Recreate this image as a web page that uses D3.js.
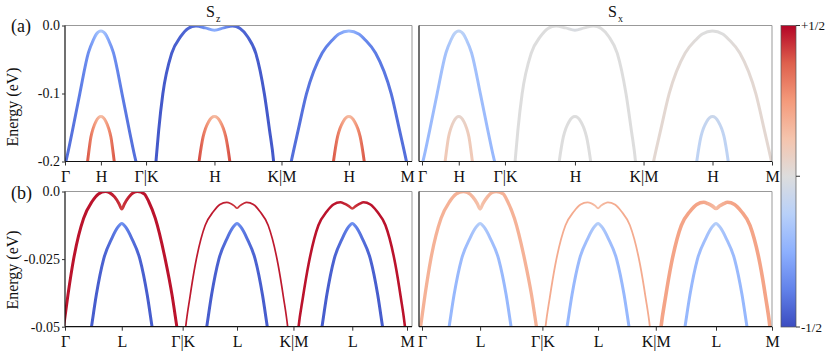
<!DOCTYPE html>
<html>
<head>
<meta charset="utf-8">
<script src="https://cdn.jsdelivr.net/npm/d3@7"></script>
<style>
  body { margin: 0; background: #fff; }
</style>
</head>
<body>
<svg id="chart" width="830" height="355"></svg>
<script>
// high symmetry points along the path (normalised path length)
const kTop = [0, 0.105, 0.237, 0.437, 0.633, 0.830, 1];
const labelsTop = ["Γ", "H", "Γ|K", "H", "K|M", "H", "M"];
const kBot = [0, 0.166, 0.344, 0.503, 0.668, 0.840, 1];
const labelsBot = ["Γ", "L", "Γ|K", "L", "K|M", "L", "M"];

const yTicksTop = [0, -0.1, -0.2];
const yLabelsTop = ["0.0", "-0.1", "-0.2"];
const yTicksBot = [0, -0.025, -0.05];
const yLabelsBot = ["0.0", "-0.025", "-0.05"];

// coolwarm colour map
const spinStops = [-0.5, -0.375, -0.25, -0.125, 0, 0.125, 0.25, 0.375, 0.5];
const coolwarmColors = ["#3b4cc0", "#6282ea", "#8db0fe", "#b8d0f9", "#dddddd", "#f5c4ad", "#f49a7b", "#de604d", "#b40426"];

// bands: [k, E (eV), Sz, Sx]
// (a) bands around H
const bandA1 = [[-0.003,-0.21,-0.42,-0.22],[0.003,-0.199,-0.42,-0.22],[0.022,-0.154,-0.41,-0.21],[0.043,-0.101,-0.39,-0.2],
  [0.0685,-0.040,-0.34,-0.18],[0.083,-0.021,-0.28,-0.15],[0.092,-0.0125,-0.22,-0.12],[0.105,-0.008,-0.16,-0.1],
  [0.118,-0.0125,-0.22,-0.12],[0.127,-0.021,-0.28,-0.15],[0.1415,-0.040,-0.34,-0.18],[0.167,-0.101,-0.39,-0.2],
  [0.188,-0.154,-0.41,-0.21],[0.207,-0.199,-0.42,-0.22],[0.213,-0.21,-0.42,-0.22]];
const bandB1 = [[0.062,-0.215,0.38,0.1],[0.066,-0.2,0.38,0.1],[0.076,-0.1635,0.32,0.09],[0.0822,-0.1516,0.28,0.08],
  [0.0904,-0.1414,0.22,0.06],[0.105,-0.134,0.14,0.04],[0.1196,-0.1414,0.22,0.06],[0.1278,-0.1516,0.28,0.08],
  [0.134,-0.1635,0.32,0.09],[0.144,-0.2,0.38,0.1],[0.148,-0.215,0.38,0.1]];
const bandA2 = [[0.2635,-0.215,-0.47,0],[0.266,-0.2,-0.47,0],[0.274,-0.1537,-0.47,0],[0.286,-0.1007,-0.47,0],
  [0.312,-0.0409,-0.46,0],[0.338,-0.0165,-0.45,0],[0.360,-0.0043,-0.44,0],[0.383,-0.0007,-0.42,0],
  [0.410,-0.0035,-0.33,0],[0.437,-0.007,-0.25,-0.02],[0.464,-0.0035,-0.33,0],[0.490,-0.0007,-0.42,0],
  [0.512,-0.0043,-0.44,0],[0.534,-0.0165,-0.45,0],[0.558,-0.0409,-0.46,0],[0.583,-0.1007,-0.47,0],
  [0.598,-0.1537,-0.47,0],[0.610,-0.2,-0.47,0],[0.6125,-0.215,-0.47,0]];
const bandB2 = [[0.388,-0.215,0.40,0],[0.392,-0.2,0.40,0],[0.404,-0.1635,0.33,0],[0.411,-0.1516,0.29,0],
  [0.420,-0.1414,0.23,0],[0.437,-0.134,0.15,0],[0.454,-0.1414,0.23,0],[0.463,-0.1516,0.29,0],
  [0.470,-0.1635,0.33,0],[0.482,-0.2,0.40,0],[0.486,-0.215,0.40,0]];
const bandA3 = [[0.6575,-0.21,-0.42,0.03],[0.662,-0.199,-0.42,0.03],[0.682,-0.1536,-0.42,0.03],[0.706,-0.1007,-0.41,0.03],
  [0.752,-0.0404,-0.39,0.02],[0.782,-0.0213,-0.36,0.01],[0.801,-0.0124,-0.30,0],[0.830,-0.008,-0.22,0],
  [0.859,-0.0124,-0.30,0],[0.878,-0.0213,-0.36,0.01],[0.908,-0.0404,-0.39,0.02],[0.954,-0.1007,-0.41,0.03],
  [0.978,-0.1536,-0.42,0.03],[0.998,-0.199,-0.42,0.03],[1.0025,-0.21,-0.42,0.03]];
const bandB3 = [[0.781,-0.215,0.38,-0.1],[0.785,-0.2,0.38,-0.1],[0.797,-0.1635,0.32,-0.1],[0.804,-0.1516,0.28,-0.09],
  [0.8132,-0.1414,0.22,-0.08],[0.830,-0.134,0.15,-0.06],[0.8468,-0.1414,0.22,-0.08],[0.856,-0.1516,0.28,-0.09],
  [0.863,-0.1635,0.32,-0.1],[0.875,-0.2,0.38,-0.1],[0.879,-0.215,0.38,-0.1]];

// (b) bands around L
const bandC1 = [[-0.0094,-0.055,0.48,0.18],[-0.004,-0.05,0.48,0.18],[0.0086,-0.0383,0.48,0.18],[0.0252,-0.025,0.48,0.18],
  [0.0545,-0.0099,0.48,0.18],[0.0787,-0.0038,0.48,0.18],[0.098,-0.0009,0.48,0.18],[0.118,0,0.48,0.18],
  [0.130,-0.0004,0.47,0.17],[0.145,-0.002,0.46,0.16],[0.158,-0.0045,0.44,0.14],[0.166,-0.0065,0.42,0.12],
  [0.174,-0.0045,0.44,0.14],[0.187,-0.002,0.46,0.16],[0.200,-0.0004,0.47,0.17],[0.212,0,0.48,0.18],
  [0.232,-0.0009,0.48,0.18],[0.245,-0.0038,0.48,0.18],[0.264,-0.0099,0.48,0.18],[0.293,-0.025,0.48,0.18],
  [0.313,-0.0383,0.48,0.18],[0.327,-0.05,0.48,0.18],[0.333,-0.055,0.48,0.18]];
const bandD1 = [[0.0715,-0.055,-0.46,-0.22],[0.0775,-0.05,-0.46,-0.22],[0.0915,-0.0383,-0.46,-0.22],[0.113,-0.025,-0.45,-0.21],
  [0.137,-0.0173,-0.42,-0.19],[0.154,-0.0133,-0.38,-0.16],[0.166,-0.0118,-0.33,-0.13],[0.178,-0.0133,-0.38,-0.16],
  [0.195,-0.0173,-0.42,-0.19],[0.219,-0.025,-0.45,-0.21],[0.2405,-0.0383,-0.46,-0.22],[0.2545,-0.05,-0.46,-0.22],
  [0.2605,-0.055,-0.46,-0.22]];
const bandC2 = [[0.349,-0.055,0.47,0.2],[0.353,-0.05,0.47,0.2],[0.365,-0.0393,0.47,0.2],[0.381,-0.027,0.47,0.2],
  [0.41,-0.0125,0.47,0.2],[0.434,-0.0074,0.47,0.2],[0.453,-0.0048,0.47,0.2],[0.473,-0.004,0.46,0.19],
  [0.484,-0.0044,0.45,0.17],[0.495,-0.0053,0.44,0.15],[0.503,-0.0062,0.42,0.14],[0.511,-0.0053,0.44,0.15],
  [0.522,-0.0044,0.45,0.17],[0.531,-0.004,0.46,0.19],[0.551,-0.0048,0.47,0.2],[0.570,-0.0074,0.47,0.2],
  [0.594,-0.0125,0.47,0.2],[0.623,-0.027,0.47,0.2],[0.639,-0.0393,0.47,0.2],[0.651,-0.05,0.47,0.2],
  [0.655,-0.055,0.47,0.2]];
const bandD2 = [[0.4085,-0.055,-0.46,-0.22],[0.4145,-0.05,-0.46,-0.22],[0.4285,-0.0383,-0.46,-0.22],[0.45,-0.025,-0.45,-0.21],
  [0.474,-0.0173,-0.42,-0.19],[0.491,-0.0133,-0.38,-0.16],[0.503,-0.0118,-0.33,-0.13],[0.515,-0.0133,-0.38,-0.16],
  [0.532,-0.0173,-0.42,-0.19],[0.556,-0.025,-0.45,-0.21],[0.5775,-0.0383,-0.46,-0.22],[0.5915,-0.05,-0.46,-0.22],
  [0.5975,-0.055,-0.46,-0.22]];
const bandC3 = [[0.679,-0.055,0.48,0.22],[0.683,-0.05,0.48,0.22],[0.6955,-0.0393,0.48,0.22],[0.712,-0.027,0.48,0.22],
  [0.741,-0.0125,0.48,0.22],[0.7655,-0.0074,0.48,0.22],[0.785,-0.0048,0.48,0.22],[0.805,-0.004,0.47,0.21],
  [0.817,-0.0045,0.46,0.19],[0.830,-0.0054,0.44,0.17],[0.840,-0.0063,0.42,0.15],[0.850,-0.0054,0.44,0.17],
  [0.862,-0.0045,0.46,0.19],[0.873,-0.004,0.47,0.21],[0.893,-0.0048,0.48,0.22],[0.9125,-0.0074,0.48,0.22],
  [0.937,-0.0125,0.48,0.22],[0.966,-0.027,0.48,0.22],[0.982,-0.0393,0.48,0.22],[0.994,-0.05,0.48,0.22],
  [0.998,-0.055,0.48,0.22]];
const bandD3 = [[0.7455,-0.055,-0.46,-0.22],[0.7515,-0.05,-0.46,-0.22],[0.7655,-0.0383,-0.46,-0.22],[0.787,-0.025,-0.45,-0.21],
  [0.811,-0.0173,-0.42,-0.19],[0.828,-0.0133,-0.38,-0.16],[0.840,-0.0118,-0.33,-0.13],[0.852,-0.0133,-0.38,-0.16],
  [0.869,-0.0173,-0.42,-0.19],[0.893,-0.025,-0.45,-0.21],[0.9145,-0.0383,-0.46,-0.22],[0.9285,-0.05,-0.46,-0.22],
  [0.9345,-0.055,-0.46,-0.22]];

const topBands = [bandA1, bandB1, bandA2, bandB2, bandA3, bandB3];
const botBands = [bandD1, bandD2, bandD3, bandC1, bandC2, bandC3];

const FONT = "'Liberation Serif', 'Times New Roman', Times, serif";

const svg = d3.select("#chart").attr("font-family", FONT);
const defs = svg.append("defs");

const coolwarm = d3.scaleLinear().domain(spinStops).range(coolwarmColors)
  .interpolate(d3.interpolateRgb).clamp(true);

const panels = [
  {left: 65, x0: 65, x1: 407, right: 412, y0: 25.5, y1: 161.5, yDom: [-0.2, 0], yT: yTicksTop, yL: yLabelsTop,
   kT: kTop, kL: labelsTop, bands: topBands, spin: 2, widths: [3, 3, 3, 3, 3, 3], yAxis: true},
  {left: 419, x0: 422, x1: 772, right: 772, y0: 25.5, y1: 161.5, yDom: [-0.2, 0], yT: yTicksTop, yL: yLabelsTop,
   kT: kTop, kL: labelsTop, bands: topBands, spin: 3, widths: [3, 3, 3, 3, 3, 3], yAxis: false},
  {left: 65, x0: 65, x1: 407, right: 412, y0: 191.5, y1: 326.7, yDom: [-0.05, 0], yT: yTicksBot, yL: yLabelsBot,
   kT: kBot, kL: labelsBot, bands: botBands, spin: 2, widths: [3, 3, 3, 3, 1.7, 2.6], yAxis: true},
  {left: 419, x0: 422, x1: 772, right: 772, y0: 191.5, y1: 326.7, yDom: [-0.05, 0], yT: yTicksBot, yL: yLabelsBot,
   kT: kBot, kL: labelsBot, bands: botBands, spin: 3, widths: [3, 3, 3, 3.3, 1.8, 3.6], yAxis: false}
];

panels.forEach((p, pi) => {
  const x = d3.scaleLinear().domain([0, 1]).range([p.x0, p.x1]);
  const y = d3.scaleLinear().domain(p.yDom).range([p.y1, p.y0]);
  const g = svg.append("g");

  const clipId = "clip" + pi;
  defs.append("clipPath").attr("id", clipId)
    .append("rect").attr("x", p.left).attr("y", p.y0)
    .attr("width", p.right - p.left).attr("height", p.y1 - p.y0);

  const line = d3.line().x(d => x(d[0])).y(d => y(d[1])).curve(d3.curveMonotoneX);

  p.bands.forEach((b, bi) => {
    const gid = "grad" + pi + "_" + bi;
    const k0 = b[0][0], k1 = b[b.length - 1][0];
    const grad = defs.append("linearGradient").attr("id", gid)
      .attr("gradientUnits", "userSpaceOnUse")
      .attr("x1", x(k0)).attr("x2", x(k1)).attr("y1", 0).attr("y2", 0);
    grad.selectAll("stop").data(b).join("stop")
      .attr("offset", d => (d[0] - k0) / (k1 - k0))
      .attr("stop-color", d => coolwarm(d[p.spin]));
    g.append("path")
      .attr("d", line(b))
      .attr("fill", "none")
      .attr("stroke", "url(#" + gid + ")")
      .attr("stroke-width", p.widths[bi])
      .attr("clip-path", "url(#" + clipId + ")");
  });

  // frame: grey top/right, black left/bottom
  g.append("line").attr("x1", p.left).attr("x2", p.right).attr("y1", p.y0).attr("y2", p.y0)
    .attr("stroke", "#999").attr("stroke-width", 1);
  g.append("line").attr("x1", p.right).attr("x2", p.right).attr("y1", p.y0).attr("y2", p.y1)
    .attr("stroke", "#999").attr("stroke-width", 1);
  g.append("line").attr("x1", p.left).attr("x2", p.left).attr("y1", p.y0).attr("y2", p.y1)
    .attr("stroke", "#111").attr("stroke-width", 1.2);
  g.append("line").attr("x1", p.left).attr("x2", p.right).attr("y1", p.y1).attr("y2", p.y1)
    .attr("stroke", "#111").attr("stroke-width", 1.2);

  const xa = g.append("g").attr("transform", "translate(0," + p.y1 + ")")
    .call(d3.axisBottom(x).tickValues(p.kT).tickFormat((d, i) => p.kL[i]).tickSize(4).tickPadding(5));
  xa.attr("font-family", FONT).attr("font-size", 16);
  xa.select(".domain").remove();
  xa.selectAll("line").attr("stroke", "#333");
  xa.selectAll("text").attr("fill", "#111");

  if (p.yAxis) {
    const ya = g.append("g").attr("transform", "translate(" + p.left + ",0)")
      .call(d3.axisLeft(y).tickValues(p.yT).tickFormat((d, i) => p.yL[i]).tickSize(3).tickPadding(2));
    ya.attr("font-family", FONT).attr("font-size", 14);
    ya.select(".domain").remove();
    ya.selectAll("line").attr("stroke", "#333");
    ya.selectAll("text").attr("fill", "#111");
  }
});

// labels
function label(xp, yp, size, str) {
  return svg.append("text").attr("x", xp).attr("y", yp)
    .attr("font-family", FONT).attr("font-size", size).attr("fill", "#111").text(str);
}
label(11, 32, 18, "(a)");
label(11, 199, 18, "(b)");
[107, 270].forEach(cy => {
  svg.append("text").attr("transform", "translate(18," + cy + ") rotate(-90)")
    .attr("text-anchor", "middle").attr("font-family", FONT).attr("font-size", 16)
    .attr("fill", "#111").text("Energy (eV)");
});

const tz = label(206, 17, 16, "S");
tz.append("tspan").attr("dx", 1).attr("dy", 5).attr("font-size", 10).text("z");
const tx = label(608, 17, 16, "S");
tx.append("tspan").attr("dx", 1).attr("dy", 5).attr("font-size", 10).text("x");

// colour bar
const cbTop = 25.5, cbBot = 327;
const cbY = d3.scaleLinear().domain([-0.5, 0.5]).range([cbBot, cbTop]);
const cbGrad = defs.append("linearGradient").attr("id", "cbgrad")
  .attr("x1", 0).attr("x2", 0).attr("y1", 1).attr("y2", 0);
cbGrad.selectAll("stop").data(spinStops).join("stop")
  .attr("offset", d => d + 0.5)
  .attr("stop-color", d => coolwarm(d));
svg.append("rect").attr("x", 781).attr("y", cbTop).attr("width", 15).attr("height", cbBot - cbTop)
  .attr("fill", "url(#cbgrad)").attr("stroke", "#555").attr("stroke-width", 0.7);
const cbTicks = [0.5, 0, -0.5];
const cbLabels = ["+1/2", "", "-1/2"];
cbTicks.forEach((t, i) => {
  svg.append("line").attr("x1", 796).attr("x2", 800).attr("y1", cbY(t)).attr("y2", cbY(t))
    .attr("stroke", "#333");
  label(801, cbY(t), 13, cbLabels[i]).attr("dy", "0.35em");
});
</script>
</body>
</html>
